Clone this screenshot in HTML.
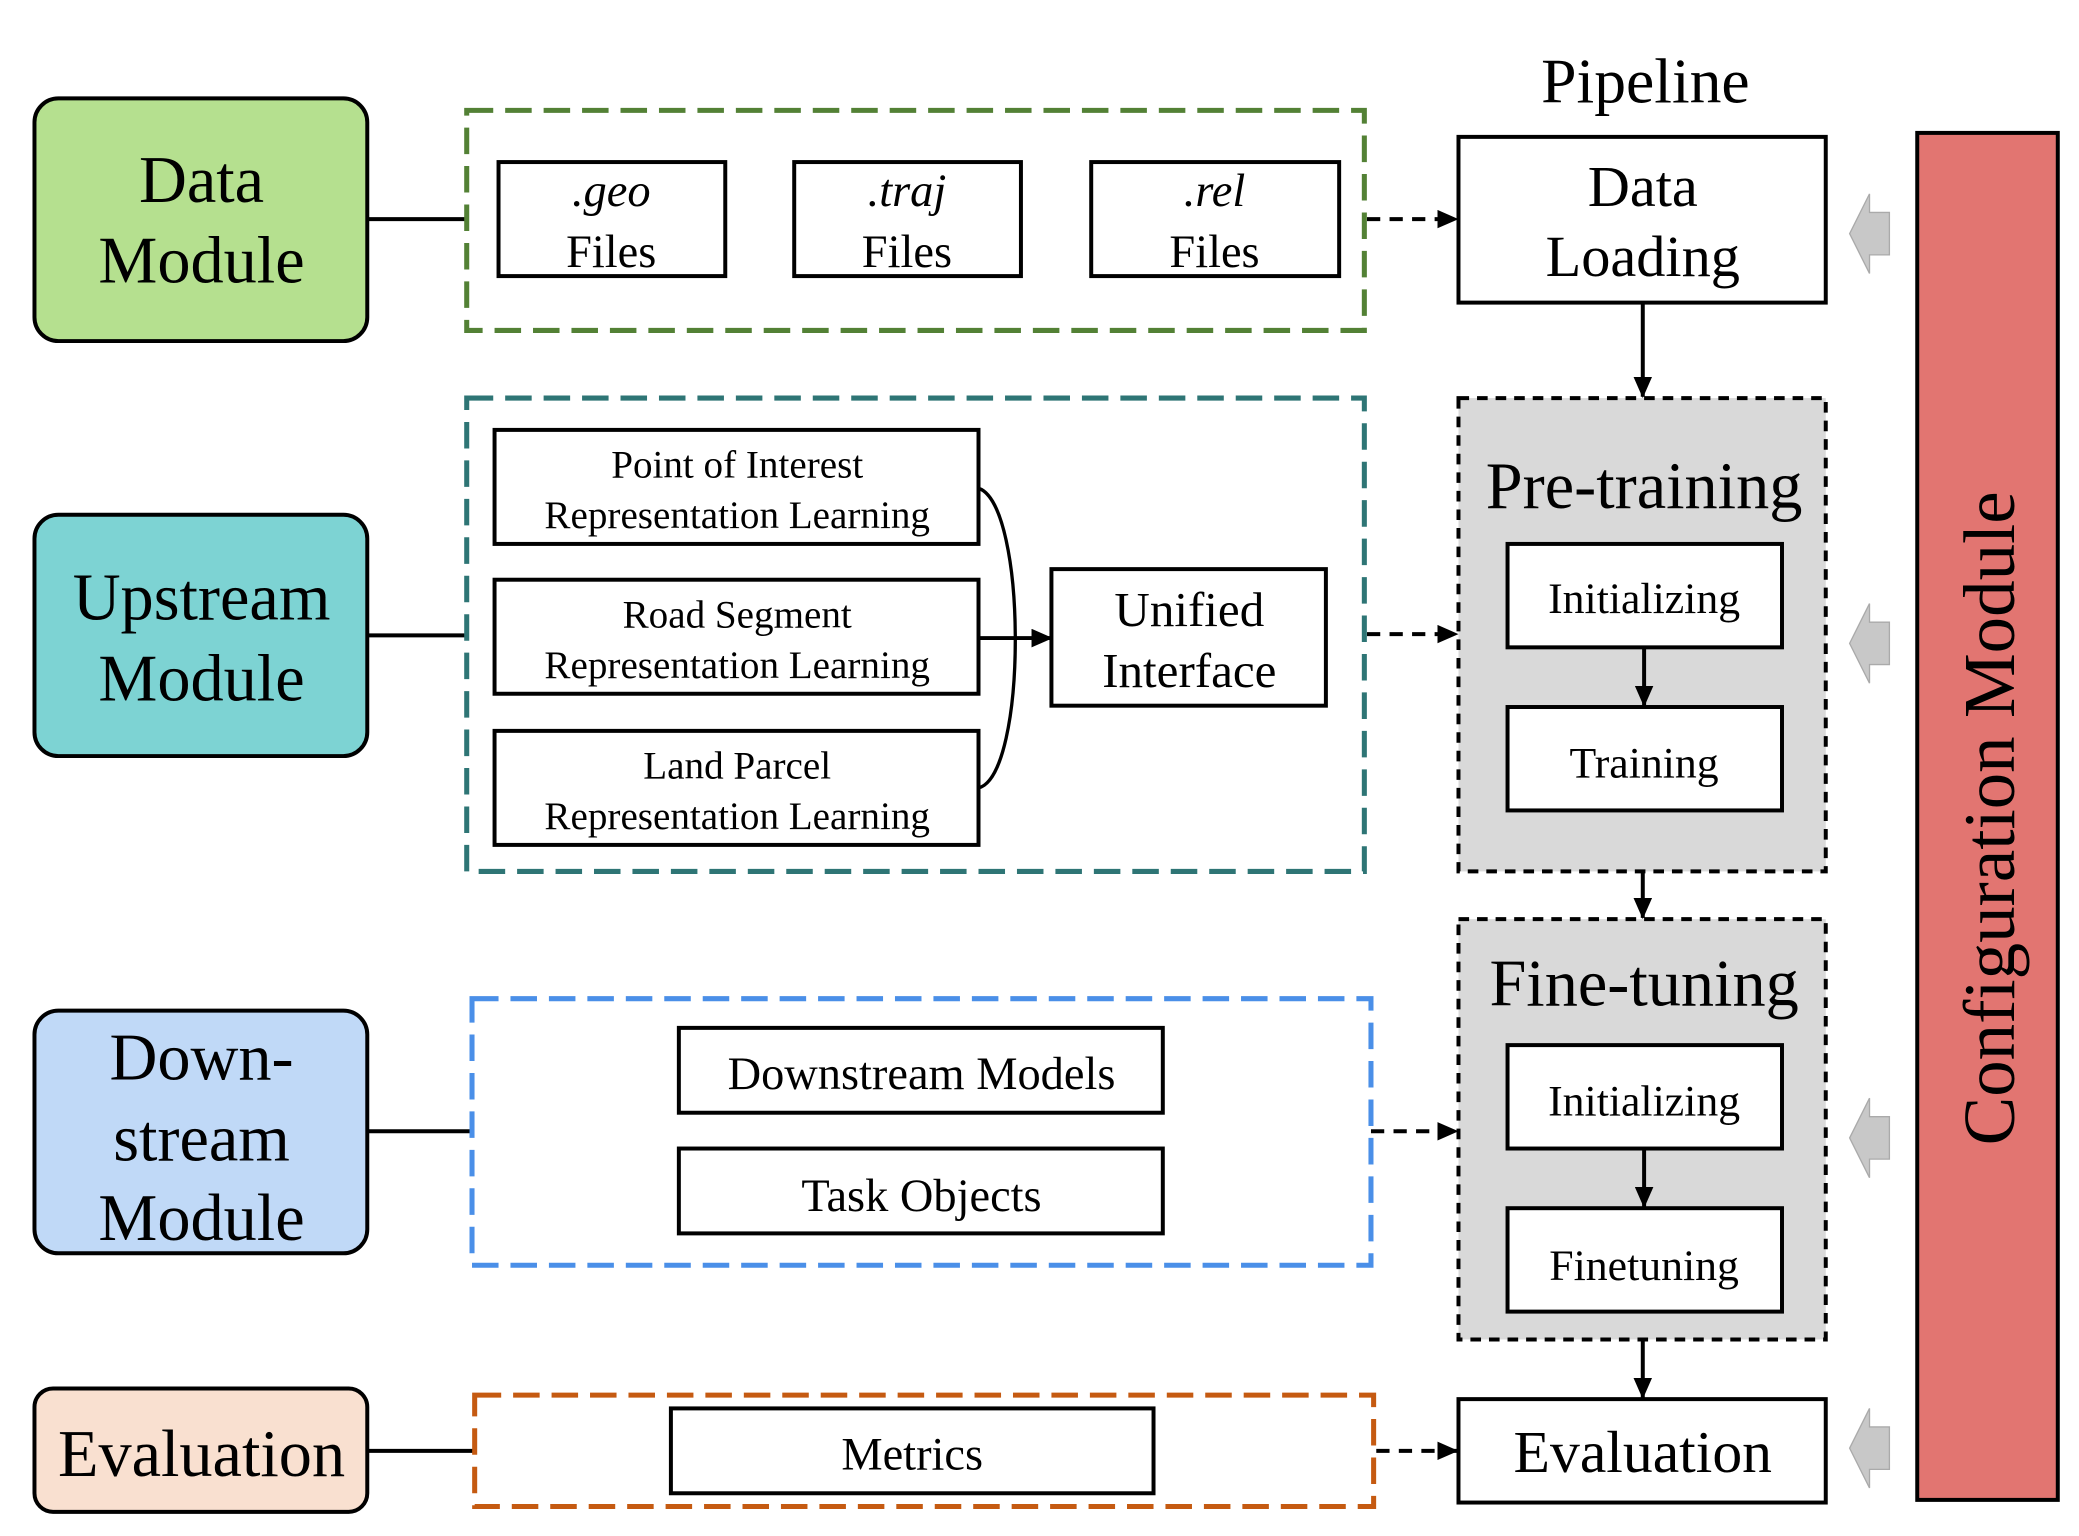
<!DOCTYPE html>
<html><head><meta charset="utf-8"><style>html,body{margin:0;padding:0;background:#fff}svg{display:block}</style></head><body>
<svg width="2079" height="1536" viewBox="0 0 1568 1158" xmlns="http://www.w3.org/2000/svg" font-family="Liberation Serif, serif">
<defs>
<marker id="b" markerWidth="16" markerHeight="14" refX="15" refY="7" orient="auto" markerUnits="userSpaceOnUse"><path d="M0,0 L16,7 L0,14 z" fill="#000"/></marker></defs>
<g stroke="#000" stroke-width="3">
<rect x="26" y="74" width="251" height="183" rx="18" fill="#b5e08f"/>
<rect x="26" y="388" width="251" height="182" rx="18" fill="#7dd3d3"/>
<rect x="26" y="762" width="251" height="183" rx="18" fill="#c0d9f7"/>
<rect x="26" y="1047" width="251" height="93" rx="14" fill="#f9e0d0"/>
<line x1="277" y1="165" x2="352" y2="165"/><line x1="277" y1="479" x2="352" y2="479"/>
<line x1="277" y1="853" x2="356" y2="853"/><line x1="277" y1="1094" x2="358" y2="1094"/>
</g>
<g font-size="50" text-anchor="middle">
<text x="152" y="152">Data</text><text x="152" y="213">Module</text>
<text x="152" y="467">Upstream</text><text x="152" y="528">Module</text>
<text x="152" y="814">Down-</text><text x="152" y="875">stream</text><text x="152" y="935">Module</text>
<text x="152" y="1113">Evaluation</text></g>
<g fill="none" stroke-width="3.8" stroke-dasharray="20 9">
<rect x="352" y="83" width="677" height="166" stroke="#538135"/>
<rect x="352" y="300" width="677" height="357" stroke="#2e7575"/>
<rect x="356" y="753" width="678" height="201" stroke="#4a8fe8"/>
<rect x="358" y="1052" width="678" height="84" stroke="#c55a11"/>
</g>
<g fill="#fff" stroke="#000" stroke-width="3">
<rect x="376" y="122" width="171" height="86"/><rect x="599" y="122" width="171" height="86"/><rect x="823" y="122" width="187" height="86"/>
<rect x="373" y="324" width="365" height="86"/><rect x="373" y="437" width="365" height="86"/><rect x="373" y="551" width="365" height="86"/>
<rect x="793" y="429" width="207" height="103"/>
<rect x="512" y="775" width="365" height="64"/><rect x="512" y="866" width="365" height="64"/>
<rect x="506" y="1062" width="364" height="64"/>
</g>
<g font-size="35" text-anchor="middle">
<text x="461" y="155" font-style="italic">.geo</text><text x="461" y="201">Files</text>
<text x="684" y="155" font-style="italic">.traj</text><text x="684" y="201">Files</text>
<text x="916" y="155" font-style="italic">.rel</text><text x="916" y="201">Files</text>
</g>
<g font-size="29.5" text-anchor="middle">
<text x="556" y="360">Point of Interest</text><text x="556" y="398">Representation Learning</text>
<text x="556" y="473">Road Segment</text><text x="556" y="511">Representation Learning</text>
<text x="556" y="587">Land Parcel</text><text x="556" y="625">Representation Learning</text>
</g>
<g font-size="37" text-anchor="middle"><text x="897" y="472">Unified</text><text x="897" y="518">Interface</text></g>
<g font-size="35" text-anchor="middle"><text x="695" y="821">Downstream Models</text><text x="695" y="913">Task Objects</text><text x="688" y="1108">Metrics</text></g>
<path d="M738,368 C775,380 775,585 738,594" fill="none" stroke="#000" stroke-width="2.5"/>
<line x1="738" y1="481" x2="793" y2="481" stroke="#000" stroke-width="3" marker-end="url(#b)"/>
<g stroke="#000" stroke-width="3" stroke-dasharray="10 7">
<line x1="1031" y1="165" x2="1099" y2="165" marker-end="url(#b)"/>
<line x1="1031" y1="478" x2="1099" y2="478" marker-end="url(#b)"/>
<line x1="1034" y1="853" x2="1099" y2="853" marker-end="url(#b)"/>
<line x1="1038" y1="1094" x2="1099" y2="1094" marker-end="url(#b)"/>
</g>
<text x="1241" y="77" font-size="48" text-anchor="middle">Pipeline</text>
<g stroke="#000" stroke-width="3">
<rect x="1100" y="103" width="277" height="125" fill="#fff"/>
<rect x="1100" y="300" width="277" height="357" fill="#d9d9d9" stroke-dasharray="8 6"/>
<rect x="1100" y="693" width="277" height="317" fill="#d9d9d9" stroke-dasharray="8 6"/>
<rect x="1137" y="410" width="207" height="78" fill="#fff"/><rect x="1137" y="533" width="207" height="78" fill="#fff"/>
<rect x="1137" y="788" width="207" height="78" fill="#fff"/><rect x="1137" y="911" width="207" height="78" fill="#fff"/>
<rect x="1100" y="1055" width="277" height="78" fill="#fff"/>
<rect x="1446" y="100" width="106" height="1031" fill="#e27571"/>
<line x1="1239" y1="228" x2="1239" y2="299" marker-end="url(#b)"/>
<line x1="1240" y1="488" x2="1240" y2="532" marker-end="url(#b)"/>
<line x1="1239" y1="657" x2="1239" y2="692" marker-end="url(#b)"/>
<line x1="1240" y1="866" x2="1240" y2="910" marker-end="url(#b)"/>
<line x1="1239" y1="1010" x2="1239" y2="1054" marker-end="url(#b)"/>
</g>
<g text-anchor="middle">
<text x="1239" y="155" font-size="44">Data</text><text x="1239" y="208" font-size="44">Loading</text>
<text x="1240" y="383" font-size="50">Pre-training</text>
<text x="1240" y="462" font-size="33">Initializing</text><text x="1240" y="586" font-size="33">Training</text>
<text x="1240" y="758" font-size="50">Fine-tuning</text>
<text x="1240" y="841" font-size="33">Initializing</text><text x="1240" y="965" font-size="33">Finetuning</text>
<text x="1239" y="1110" font-size="45">Evaluation</text>
<text transform="translate(1519,617) rotate(-90)" font-size="55">Configuration Module</text>
</g>
<g fill="#c8c8c8" stroke="#aaa" stroke-width="1">
<path d="M1395,176 L1410,146 L1410,160 L1425,160 L1425,192 L1410,192 L1410,206 z"/>
<path d="M1395,485 L1410,455 L1410,469 L1425,469 L1425,501 L1410,501 L1410,515 z"/>
<path d="M1395,858 L1410,828 L1410,842 L1425,842 L1425,874 L1410,874 L1410,888 z"/>
<path d="M1395,1092 L1410,1062 L1410,1076 L1425,1076 L1425,1108 L1410,1108 L1410,1122 z"/>
</g>
</svg>
</body></html>
